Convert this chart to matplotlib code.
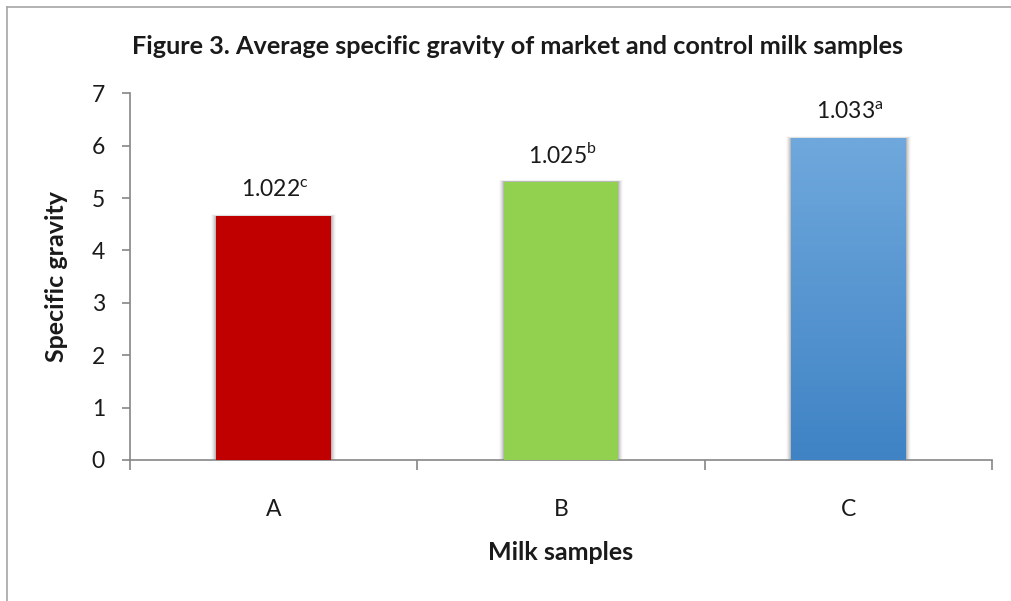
import numpy as np
import matplotlib
matplotlib.use("Agg")
import matplotlib.pyplot as plt
from matplotlib.patches import Rectangle
from matplotlib.colors import LinearSegmentedColormap
from matplotlib.lines import Line2D

plt.rcParams["font.family"] = ["Lato", "DejaVu Sans"]

# Chart data
categories = ["A", "B", "C"]
bar_heights = [4.65, 5.31, 6.14]
value_labels = ["1.022", "1.025", "1.033"]
significance = ["c", "b", "a"]
y_ticks = [0, 1, 2, 3, 4, 5, 6, 7]

title = "Figure 3. Average specific gravity of market and control milk samples"
x_title = "Milk samples"
y_title = "Specific gravity"

fig = plt.figure(figsize=(10.11, 6.01), dpi=100)
fig.patch.set_facecolor("white")

# outer chart frame (left and top edges)
frame_col = "#a6a6a6"
fig.add_artist(Line2D([7 / 1011, 7 / 1011], [0, 1 - 7 / 601], transform=fig.transFigure,
                      color=frame_col, lw=1.2))
fig.add_artist(Line2D([7 / 1011, 1], [1 - 7 / 601, 1 - 7 / 601], transform=fig.transFigure,
                      color=frame_col, lw=1.2))

ax = fig.add_axes([130 / 1011, 1 - 460 / 601, 862 / 1011, (460 - 93.3) / 601])
x = np.arange(len(categories))
width = 0.40
fills = ["#c00000", "#92d050", None]

bars = ax.bar(x, bar_heights, width=width, color=[c or "none" for c in fills],
              edgecolor="none", zorder=3)

# soft shadows around each bar
for xi, h in zip(x, bar_heights):
    for k, a in zip(range(1, 6), [0.10, 0.08, 0.06, 0.04, 0.025]):
        dx = k * 0.0035
        ax.add_patch(Rectangle((xi - width / 2 - dx, 0), width + 2 * dx, h + dx * 2.2,
                               facecolor="black", alpha=a, edgecolor="none", zorder=2))
    ax.add_patch(Rectangle((xi - width / 2, 0), width, h, facecolor="white",
                           edgecolor="none", zorder=2.5))

# vertical gradient fill for the third bar
blue_cmap = LinearSegmentedColormap.from_list("blue_grad", ["#3f83c5", "#6fa8dc"])
bx = x[2]
grad = np.linspace(0, 1, 256).reshape(-1, 1)
im = ax.imshow(grad, cmap=blue_cmap, origin="lower", aspect="auto",
               extent=(bx - width / 2, bx + width / 2, 0, bar_heights[2]), zorder=3.5)
im.set_clip_path(bars[2])

# value labels with significance letters
for xi, h, v, s in zip(x, bar_heights, value_labels, significance):
    ax.annotate(v + r"$^{\mathregular{" + s + "}}$", (xi, h), xytext=(1, 11),
                textcoords="offset points", ha="center", va="bottom",
                fontsize=16.5, color="#1a1a1a", zorder=5)

ax.set_xlim(-0.5, 2.5)
ax.set_ylim(0, 7)
ax.set_yticks(y_ticks)
ax.set_yticklabels([str(t) for t in y_ticks])
ax.set_xticks(x)
ax.set_xticklabels(categories)
ax.set_xticks([-0.5, 0.5, 1.5, 2.5], minor=True)

axis_col = "#868686"
for side in ["top", "right"]:
    ax.spines[side].set_visible(False)
for side in ["left", "bottom"]:
    ax.spines[side].set_color(axis_col)
    ax.spines[side].set_linewidth(1.2)

ax.tick_params(axis="y", direction="out", length=6, width=1.2, color=axis_col,
               labelsize=16.5, labelcolor="#1a1a1a", pad=12)
ax.tick_params(axis="x", which="major", length=0, labelsize=16.5,
               labelcolor="#1a1a1a", pad=28)
ax.tick_params(axis="x", which="minor", direction="out", length=7, width=1.2,
               color=axis_col)

fig.text(517 / 1011, 1 - 47 / 601, title, ha="center", va="center",
         fontsize=18.2, fontweight="bold", color="#1a1a1a")
fig.text(56 / 1011, 1 - 276 / 601, y_title, ha="center", va="center", rotation=90,
         fontsize=18, fontweight="bold", color="#1a1a1a")
fig.text(561 / 1011, 1 - 553 / 601, x_title, ha="center", va="center",
         fontsize=18, fontweight="bold", color="#1a1a1a")

fig.savefig("out.png", dpi=100, facecolor="white")
